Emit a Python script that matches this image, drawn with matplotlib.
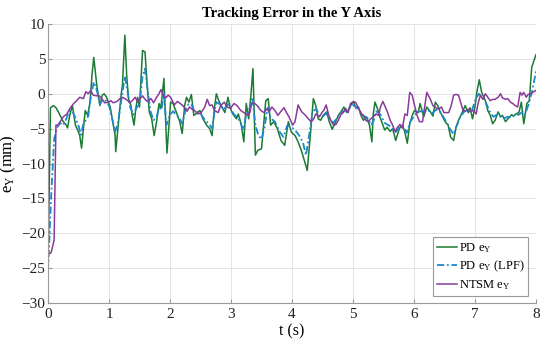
import matplotlib
matplotlib.use("Agg")
import matplotlib.pyplot as plt

plt.rcParams['font.family'] = ['Liberation Serif', 'DejaVu Serif']
plt.rcParams['mathtext.fontset'] = 'custom'
plt.rcParams['mathtext.rm'] = 'Liberation Serif'
plt.rcParams['mathtext.it'] = 'Liberation Serif'

# PD e_Y (raw)
t_pd = [0, 0.04, 0.09, 0.13, 0.17, 0.25, 0.30, 0.32, 0.36, 0.40, 0.45, 0.50, 0.52, 0.55, 0.58, 0.61,
        0.65, 0.69, 0.72, 0.75, 0.80, 0.85, 0.89, 0.92, 0.96, 1.02, 1.07, 1.10, 1.11, 1.16, 1.20, 1.22,
        1.26, 1.29, 1.32, 1.36, 1.38, 1.41, 1.44, 1.47, 1.50, 1.55, 1.59, 1.63, 1.66, 1.70, 1.74, 1.78,
        1.82, 1.85, 1.90, 1.95, 2.01, 2.05, 2.10, 2.16, 2.20, 2.24, 2.27, 2.31, 2.35, 2.39, 2.45, 2.49,
        2.54, 2.60, 2.65, 2.69, 2.73, 2.76, 2.80, 2.84, 2.90, 2.95, 2.99, 3.03, 3.09, 3.12, 3.17, 3.21,
        3.25, 3.29, 3.33, 3.36, 3.40, 3.44, 3.50, 3.54, 3.57, 3.61, 3.65, 3.70, 3.76, 3.82, 3.88, 3.94,
        3.99, 4.05, 4.10, 4.16, 4.21, 4.25, 4.30, 4.35, 4.39, 4.43, 4.47, 4.51, 4.57, 4.61, 4.66, 4.70,
        4.76, 4.81, 4.85, 4.90, 4.94, 4.98, 5.01, 5.05, 5.09, 5.13, 5.17, 5.22, 5.27, 5.31, 5.33, 5.36,
        5.40, 5.44, 5.49, 5.52, 5.56, 5.61, 5.65, 5.70, 5.76, 5.81, 5.85, 5.89, 5.93, 5.98, 6.01, 6.07,
        6.10, 6.16, 6.21, 6.27, 6.31, 6.35, 6.39, 6.43, 6.47, 6.51, 6.56, 6.60, 6.65, 6.69, 6.73, 6.79,
        6.84, 6.89, 6.92, 6.96, 7.00, 7.03, 7.07, 7.11, 7.17, 7.21, 7.25, 7.29, 7.33, 7.38, 7.42, 7.45,
        7.50, 7.55, 7.60, 7.63, 7.67, 7.72, 7.76, 7.80, 7.85, 7.89, 7.93, 8.00]
e_pd = [-25, -2.0, -1.7, -2.0, -2.6, -4.0, -4.5, -4.9, -2.9, -1.7, -4.5, -5.5, -6.0, -7.8, -5.0, -2.4,
        -3.1, -1.2, 2.6, 5.2, 1.2, -1.7, -0.2, 0.0, -0.5, -1.9, -4.5, -6.0, -8.3, -3.6, 0.0, 1.2,
        8.4, 2.6, -0.7, -1.7, -3.1, -4.5, -2.1, -0.5, -1.9, 6.2, 6.0, 0.7, -2.6, -3.6, -6.0, -4.0,
        -1.4, -2.1, 2.2, -8.5, -1.2, -1.4, -2.6, -4.0, -5.7, -1.7, -0.5, -1.2, -0.1, -3.1, -2.7, -2.4,
        -3.6, -4.5, -5.0, -6.0, -1.9, 0.0, -1.0, -1.7, -2.7, -0.5, -2.1, -2.9, -3.6, -2.9, -4.5, -6.9,
        -1.4, -3.6, 0.2, 3.6, -8.8, -8.1, -7.9, -4.0, -1.0, -0.7, -4.5, -4.0, -5.0, -6.7, -7.4, -4.0,
        -5.5, -6.0, -6.9, -8.3, -9.8, -11.0, -6.0, -0.7, -1.7, -3.6, -3.8, -3.1, -2.6, -4.0, -5.1, -4.3,
        -3.1, -2.5, -1.9, -2.7, -2.1, -1.4, -1.2, -2.1, -1.9, -3.1, -3.8, -3.3, -4.5, -6.9, -3.1, -1.2,
        -2.1, -3.3, -4.5, -5.2, -4.8, -5.4, -5.0, -6.7, -5.0, -4.5, -5.5, -7.1, -4.3, -2.9, -2.4, -2.7,
        -1.4, -3.3, -1.9, -2.6, -3.2, -1.2, -1.7, -2.6, -3.3, -4.0, -4.5, -6.2, -6.7, -4.8, -3.8, -2.7,
        -1.7, -2.7, -2.0, -3.6, -1.9, 0.2, 2.0, 0.2, -1.0, -2.4, -3.1, -4.3, -3.8, -2.6, -3.3, -3.1,
        -4.0, -3.5, -3.0, -3.2, -2.9, -2.7, -1.2, -4.3, -1.4, -1.0, 3.8, 5.6]

# PD e_Y after low-pass filter
t_lpf = [0, 0.05, 0.10, 0.15, 0.20, 0.25, 0.30, 0.35, 0.40, 0.45, 0.50, 0.54, 0.58, 0.62, 0.66, 0.70,
         0.75, 0.80, 0.85, 0.90, 0.95, 1.00, 1.05, 1.10, 1.15, 1.20, 1.26, 1.30, 1.35, 1.40, 1.45, 1.50,
         1.55, 1.59, 1.63, 1.68, 1.73, 1.78, 1.82, 1.86, 1.90, 1.94, 2.00, 2.05, 2.10, 2.16, 2.20, 2.25,
         2.30, 2.35, 2.40, 2.45, 2.50, 2.55, 2.60, 2.65, 2.69, 2.73, 2.76, 2.82, 2.88, 2.95, 3.00, 3.05,
         3.10, 3.15, 3.20, 3.25, 3.30, 3.35, 3.40, 3.45, 3.50, 3.55, 3.60, 3.65, 3.72, 3.80, 3.86, 3.92,
         3.98, 4.05, 4.12, 4.18, 4.23, 4.28, 4.34, 4.40, 4.45, 4.50, 4.56, 4.62, 4.68, 4.75, 4.82, 4.88,
         4.95, 5.00, 5.05, 5.12, 5.18, 5.24, 5.30, 5.34, 5.38, 5.45, 5.52, 5.58, 5.64, 5.70, 5.76, 5.82,
         5.88, 5.94, 6.00, 6.06, 6.12, 6.18, 6.24, 6.30, 6.36, 6.42, 6.48, 6.54, 6.60, 6.65, 6.70, 6.76,
         6.82, 6.88, 6.94, 7.00, 7.06, 7.12, 7.18, 7.24, 7.30, 7.36, 7.42, 7.48, 7.54, 7.60, 7.66, 7.72,
         7.78, 7.82, 7.88, 7.94, 8.00]
e_lpf = [-25.5, -15.0, -6.5, -4.8, -4.2, -4.5, -3.6, -2.4, -2.5, -3.5, -4.6, -5.9, -4.3, -3.8, -3.2, -0.5,
         1.7, 0.5, -1.5, -0.8, -1.0, -1.7, -3.5, -5.5, -4.0, -1.0, 2.5, 0.5, -2.0, -3.0, -2.0, -1.5,
         2.5, 3.6, 0.8, -2.5, -3.8, -3.3, -2.0, -2.3, 0.0, -4.5, -3.0, -2.5, -3.0, -3.5, -4.3, -2.5,
         -1.5, -1.5, -2.5, -2.6, -2.8, -3.5, -4.0, -4.4, -5.0, -2.5, -1.2, -1.5, -2.3, -1.5, -2.2, -3.0,
         -3.3, -4.0, -5.2, -3.0, -2.2, -0.5, -4.5, -6.0, -6.5, -4.8, -2.0, -3.5, -4.0, -5.5, -6.2, -4.6,
         -4.7, -5.2, -6.0, -7.0, -8.8, -6.0, -2.5, -2.2, -3.2, -3.3, -2.8, -3.6, -4.2, -3.3, -2.6, -2.4,
         -2.0, -1.6, -1.9, -2.6, -3.2, -3.5, -4.5, -3.8, -2.5, -3.0, -4.2, -4.5, -4.8, -5.5, -4.8, -4.6,
         -5.6, -4.0, -3.2, -2.6, -2.5, -2.6, -2.4, -2.8, -2.3, -2.5, -3.3, -4.2, -5.2, -5.8, -4.6, -3.3,
         -2.6, -2.3, -2.7, -1.0, 0.0, -0.5, -1.3, -2.5, -3.3, -3.0, -3.3, -3.5, -3.3, -3.4, -3.0, -3.0,
         -2.6, -3.0, -1.5, 0.5, 3.2]

# NTSM e_Y
t_ntsm = [0, 0.05, 0.10, 0.13, 0.16, 0.20, 0.25, 0.31, 0.36, 0.42, 0.47, 0.52, 0.58, 0.62, 0.66, 0.70,
          0.74, 0.80, 0.84, 0.89, 0.93, 0.99, 1.03, 1.07, 1.13, 1.18, 1.22, 1.26, 1.31, 1.34, 1.38, 1.43,
          1.47, 1.51, 1.55, 1.59, 1.63, 1.69, 1.73, 1.78, 1.82, 1.85, 1.89, 1.93, 1.97, 2.01, 2.07, 2.12,
          2.17, 2.23, 2.28, 2.32, 2.36, 2.40, 2.46, 2.51, 2.57, 2.61, 2.65, 2.69, 2.73, 2.79, 2.83, 2.89,
          2.94, 2.99, 3.05, 3.10, 3.16, 3.21, 3.27, 3.31, 3.34, 3.39, 3.43, 3.49, 3.54, 3.58, 3.63, 3.67,
          3.72, 3.77, 3.82, 3.87, 3.91, 3.95, 4.01, 4.05, 4.10, 4.16, 4.21, 4.27, 4.31, 4.35, 4.39, 4.45,
          4.49, 4.52, 4.56, 4.60, 4.63, 4.68, 4.72, 4.76, 4.80, 4.84, 4.88, 4.92, 4.96, 5.01, 5.05, 5.09,
          5.13, 5.17, 5.21, 5.25, 5.29, 5.33, 5.38, 5.42, 5.45, 5.49, 5.52, 5.56, 5.61, 5.65, 5.69, 5.73,
          5.77, 5.81, 5.85, 5.89, 5.93, 5.97, 6.01, 6.05, 6.09, 6.14, 6.19, 6.21, 6.27, 6.31, 6.36, 6.40,
          6.45, 6.49, 6.52, 6.57, 6.61, 6.65, 6.69, 6.73, 6.78, 6.81, 6.85, 6.90, 6.94, 6.98, 7.02, 7.05,
          7.09, 7.13, 7.17, 7.21, 7.25, 7.29, 7.33, 7.38, 7.42, 7.45, 7.50, 7.54, 7.58, 7.62, 7.66, 7.70,
          7.74, 7.77, 7.80, 7.84, 7.87, 7.91, 7.95, 8.00]
e_ntsm = [-23.0, -22.8, -21.0, -4.5, -4.5, -4.0, -3.3, -2.9, -2.1, -1.4, -1.0, -0.5, -0.7, 0.3, 0.0, 0.5,
          -0.2, -0.3, -0.3, -0.8, -1.3, -1.2, -1.0, -1.3, -1.1, -0.7, -0.5, -0.7, -1.0, -1.3, -1.0, -0.5,
          -1.2, -0.7, -0.3, -0.8, -1.1, -0.7, -1.3, -0.5, 0.0, 0.6, -0.2, -0.6, -0.2, -0.5, -1.6, -1.1,
          -1.4, -1.9, -2.5, -1.9, -2.2, -2.4, -2.9, -2.7, -1.9, -0.8, -1.7, -1.6, -2.4, -2.7, -1.7, -1.2,
          -1.9, -2.1, -1.4, -1.7, -2.4, -2.7, -3.1, -2.7, -1.3, -1.4, -1.7, -2.4, -2.7, -2.2, -2.5, -1.9,
          -2.4, -3.1, -2.5, -2.0, -2.7, -3.3, -4.5, -4.0, -1.6, -2.6, -3.0, -3.6, -4.0, -3.7, -2.9, -3.3,
          -2.7, -2.4, -1.6, -3.0, -3.7, -4.5, -4.4, -3.8, -3.0, -2.7, -2.1, -2.7, -1.4, -1.1, -1.3, -2.1,
          -2.7, -3.2, -3.8, -4.0, -3.6, -3.3, -2.9, -3.1, -1.9, -1.1, -1.7, -2.5, -3.8, -4.5, -5.4, -4.8,
          -4.4, -4.9, -2.9, -3.1, 0.2, -0.2, -1.7, -3.1, -4.0, -4.0, -1.0, 0.2, -0.8, -1.7, -2.0, -2.2,
          -1.9, -2.7, -2.7, -2.7, -1.7, -0.2, -0.1, -0.2, -1.7, -2.5, -2.4, -2.2, -2.5, -2.4, -2.9, -1.4,
          -0.2, -0.8, 0.0, -0.5, -1.0, -0.8, -0.8, -0.5, 0.0, -0.6, -0.8, -0.7, -1.2, -1.4, -1.7, -1.9,
          0.2, -0.2, 0.2, -0.5, -0.1, 0.0, 0.2, 0.5]

fig = plt.figure(figsize=(5.5, 3.47), dpi=100)
ax = fig.add_axes([0.0873, 0.1268, 0.8872, 0.804])

ax.plot(t_pd, e_pd, color='#1b7a33', lw=1.1, label='PD e$_\\mathregular{Y}$')
ax.plot(t_lpf, e_lpf, color='#1c87d0', lw=1.3, ls=(0, (4, 1.5, 1, 1.5)),
        label='PD e$_\\mathregular{Y}$ (LPF)')
ax.plot(t_ntsm, e_ntsm, color='#8a3a9c', lw=1.1, label='NTSM e$_\\mathregular{Y}$')

ax.set_xlim(0, 8)
ax.set_ylim(-30, 10)
ax.set_xticks(range(0, 9))
ax.set_yticks(range(-30, 11, 5))
ax.set_yticklabels(['\u221230', '\u221225', '\u221220', '\u221215', '\u221210', '\u22125', '0', '5', '10'])
ax.grid(True, color='#e4e4e4', lw=0.7)
ax.set_axisbelow(True)

for s in ['top', 'right']:
    ax.spines[s].set_visible(False)
for s in ['left', 'bottom']:
    ax.spines[s].set_color('#9a9a9a')
    ax.spines[s].set_linewidth(0.8)
ax.tick_params(direction='in', length=3, color='#9a9a9a', labelsize=11, labelcolor='#222222')
ax.tick_params(axis='y', pad=2)

ax.set_title('Tracking Error in the Y Axis', fontsize=10.5, fontweight='bold', pad=5)
ax.set_xlabel('t (s)', fontsize=11.5, labelpad=2)
ax.set_ylabel('e$_\\mathregular{Y}$ (mm)', fontsize=12)
ax.yaxis.set_label_coords(-0.062, 0.5)

leg = ax.legend(loc='lower right', fontsize=9, handlelength=1.6, handletextpad=0.2,
                borderpad=0.3, labelspacing=0.3, fancybox=False, framealpha=1,
                borderaxespad=0.6)
leg.get_frame().set_edgecolor('#9a9a9a')
leg.get_frame().set_linewidth(0.8)

fig.savefig('out.png', dpi=100)
